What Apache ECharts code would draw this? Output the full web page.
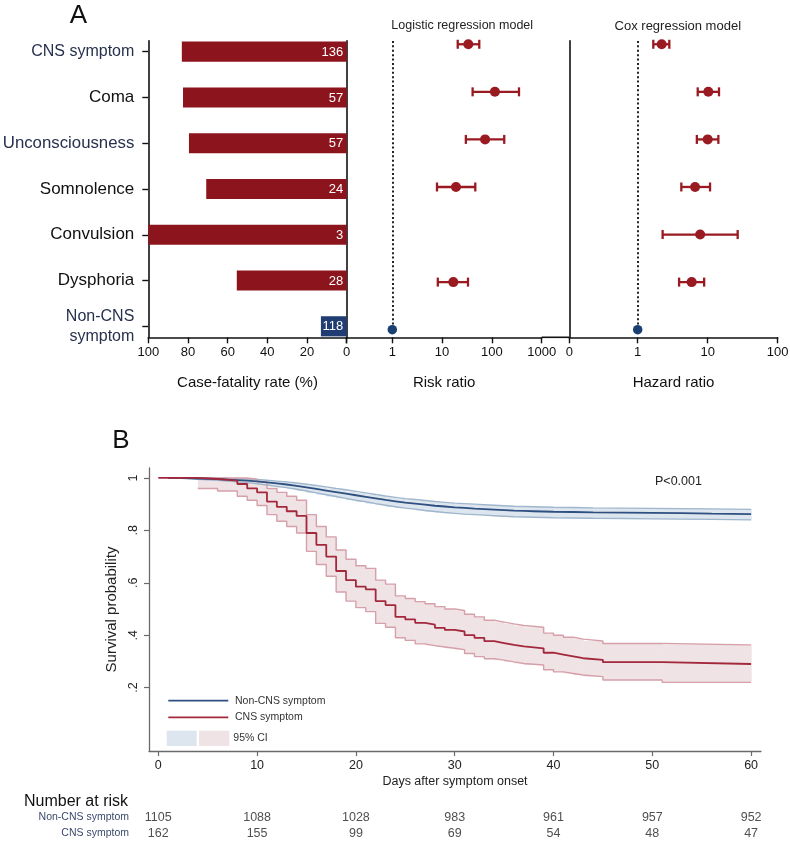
<!DOCTYPE html>
<html><head><meta charset="utf-8">
<script src="https://cdn.jsdelivr.net/npm/echarts@6/dist/echarts.min.js"></script>
<style>html,body{margin:0;padding:0;background:#fff}#c{width:790px;height:841px}</style>
</head><body><div id="c"></div>
<script>
// ---------- DATA ----------
const categories = ['CNS symptom','Coma','Unconsciousness','Somnolence','Convulsion','Dysphoria','Non-CNS symptom'];
const fatalityRate = [83.1, 82.5, 79.5, 70.8, 100, 55.4, 13.0];
const caseCounts = [136, 57, 57, 24, 3, 28, 118];

const logitLow  = [20.6, 41, 30, 7.9, null, 8.2, null];
const logitEst  = [33.6, 115, 73, 19, null, 16.8, 1];
const logitHigh = [55.8, 350, 177, 46.4, null, 33.1, null];

const coxLow  = [1.67, 7.2, 7.0, 4.2, 2.27, 3.9, null];
const coxEst  = [2.2, 10.2, 10, 6.6, 7.8, 5.9, 1];
const coxHigh = [2.83, 14.5, 14.2, 10.8, 26.8, 8.9, null];

const redDays = [0,4,6,8,9,10,11,12,13,14,15,16,17,18,19,20,21,22,23,24,25,26,27,28,29,30,31,32,33,34,35,36,37,39,40,41,42,43,45,51];
const redS    = [1,.996,.99,.977,.96,.945,.91,.89,.873,.855,.79,.745,.70,.645,.61,.585,.575,.53,.515,.47,.46,.447,.44,.428,.42,.414,.40,.39,.377,.37,.363,.357,.35,.333,.326,.319,.312,.306,.297,.29];
const redCiDays = [4,6,8,9,10,11,12,13,14,15,16,17,18,19,20,21,22,23,24,25,26,27,28,29,30,31,32,33,34,35,36,37,39,40,41,42,43,45,51];
const redHi = [1,1,1,.995,.985,.96,.945,.93,.915,.86,.815,.775,.725,.69,.665,.655,.61,.595,.55,.54,.528,.52,.509,.50,.494,.48,.47,.457,.45,.443,.437,.43,.408,.40,.392,.385,.378,.368,.363];
const redLo = [.96,.95,.93,.915,.895,.86,.835,.815,.79,.72,.67,.625,.565,.53,.505,.49,.445,.43,.39,.38,.367,.36,.355,.35,.345,.33,.318,.31,.305,.298,.292,.286,.268,.26,.254,.248,.242,.229,.22];

const blueDays = [1,2,3,4,5,6,7,8,9,10,11,12,13,14,15,16,17,18,19,20,21,22,23,24,25,26,27,28,29,30,31,32,33,34,35,36,37,38,39,40,42,44,47,50,53,56,58];
const blueS  = [1,.999,.998,.997,.996,.994,.992,.99,.987,.983,.979,.975,.97,.964,.958,.952,.946,.94,.934,.928,.922,.916,.911,.906,.902,.898,.894,.891,.888,.886,.883,.881,.879,.877,.875,.874,.873,.872,.871,.87,.869,.868,.867,.866,.864,.863,.862];
const blueHi = [1,1,1,.999,.999,.998,.997,.996,.994,.991,.988,.985,.981,.976,.971,.966,.96,.955,.949,.943,.937,.931,.926,.921,.918,.914,.91,.907,.904,.902,.9,.898,.896,.894,.892,.891,.89,.889,.888,.887,.886,.885,.884,.883,.882,.881,.88];
const blueLo = [1,.997,.995,.993,.991,.988,.985,.982,.978,.973,.968,.963,.957,.95,.943,.936,.929,.922,.915,.909,.902,.896,.89,.885,.881,.876,.872,.868,.865,.862,.86,.858,.856,.854,.852,.851,.85,.849,.848,.847,.846,.845,.844,.843,.842,.841,.84];

const riskDays = [0,10,20,30,40,50,60];
const riskNonCNS = [1105,1088,1028,983,961,957,952];
const riskCNS = [162,155,99,69,54,48,47];
const riskRows = ['Non-CNS symptom','CNS symptom'];
const kmYTicks = [0.2,0.4,0.6,0.8,1];
const followUpEnd = 60;

// ---------- STYLE ----------
const FONT = "'Liberation Sans', Arial, Helvetica, sans-serif";
const BAR_RED = '#8c141c', NAVY = '#1f3d72', FOREST_RED = '#9a1a22', DOT_BLUE = '#1c3f73';
const KM_BLUE = '#2d5080', KM_BLUE_EDGE = '#9fb6cc', KM_BLUE_FILL = '#dde5ee';
const KM_RED = '#a3283c', KM_RED_EDGE = '#d6a0aa', KM_RED_FILL = '#efe3e5';
const AX = '#111', KMAX = '#6a6a6a';
const blueishLabels = new Set(['CNS symptom','Unconsciousness','Non-CNS symptom']);

function stepPts(days, vals){
  const p = days.map((d,i)=>[d, vals[i]]);
  p.push([followUpEnd, vals[vals.length-1]]);
  return p;
}
function bandData(days, lo, hi){
  return days.map((d,i)=>[d, i+1<days.length ? days[i+1] : followUpEnd, lo[i], hi[i]]);
}
function bandRender(color){
  return function(params, api){
    const a = api.coord([api.value(0), api.value(3)]);
    const b = api.coord([api.value(1), api.value(2)]);
    return {type:'rect', shape:{x:a[0], y:a[1], width:b[0]-a[0]+0.6, height:b[1]-a[1]}, style:{fill:color}};
  };
}
function barRender(params, api){
  const v = api.value(0), row = api.value(1);
  const pe = api.coord([v,row]), p0 = api.coord([0,row]);
  const h = api.size([0,0.44])[1];
  const color = row === 6 ? NAVY : BAR_RED;
  return {type:'group', children:[
    {type:'rect', shape:{x:Math.min(pe[0],p0[0]), y:pe[1]-h/2, width:Math.abs(p0[0]-pe[0]), height:h}, style:{fill:color}},
    {type:'text', style:{text:String(api.value(2)), x:p0[0]-3.5, y:p0[1]+0.5, align:'right', verticalAlign:'middle', fill:'#fff', font:'13px '+FONT}}
  ]};
}
function errRender(params, api){
  const lo = api.value(0), hi = api.value(1), row = api.value(2);
  const a = api.coord([lo,row]), b = api.coord([hi,row]);
  const c = 4.5;
  const st = {stroke:FOREST_RED, lineWidth:2.3, fill:null};
  return {type:'group', children:[
    {type:'line', shape:{x1:a[0],y1:a[1],x2:b[0],y2:b[1]}, style:st},
    {type:'line', shape:{x1:a[0],y1:a[1]-c,x2:a[0],y2:a[1]+c}, style:st},
    {type:'line', shape:{x1:b[0],y1:b[1]-c,x2:b[0],y2:b[1]+c}, style:st}
  ]};
}
function errData(lo, hi){
  const out = [];
  lo.forEach((l,i)=>{ if(l!=null && hi[i]!=null) out.push([l, hi[i], i]); });
  return out;
}
function ptData(est, rows){
  const out = [];
  est.forEach((e,i)=>{ if(e!=null && rows(i)) out.push([e, i]); });
  return out;
}
const forestMin = -0.075, forestMax = 6.16;
const dotted = {silent:true, symbol:['none','none'], label:{show:false},
  lineStyle:{color:'#222', type:[2,2.4], width:2, cap:'butt'},
  data:[[{coord:[1,-0.07]},{coord:[1,6]}]]};
const noSplit = {show:false};
const blackLine = {show:true, onZero:false, lineStyle:{color:AX, width:1.6}};
const blackTick = {show:true, length:6, lineStyle:{color:AX, width:1.4}};
const gridBase = {containLabel:false, outerBoundsMode:'none'};

const option = {
  animation:false,
  backgroundColor:'#fff',
  textStyle:{fontFamily:FONT},
  grid:[
    Object.assign({left:148.3, top:40.7, width:198.4, height:296.6}, gridBase),
    Object.assign({left:346.7, top:40.7, width:195, height:296.6}, gridBase),
    Object.assign({left:569.3, top:40.7, width:208.4, height:296.6}, gridBase),
    Object.assign({left:149, top:468, width:612, height:283}, gridBase),
    Object.assign({left:149, top:801.3, width:612, height:48}, gridBase)
  ],
  xAxis:[
    {gridIndex:0, type:'value', inverse:true, min:0, max:100, interval:20, position:'bottom',
     axisLine:blackLine, axisTick:blackTick, splitLine:noSplit,
     axisLabel:{color:AX, fontSize:13, margin:9, showMinLabel:true, showMaxLabel:true},
     name:'Case-fatality rate (%)', nameLocation:'middle', nameGap:38, nameTextStyle:{color:AX, fontSize:15}},
    {gridIndex:1, type:'log', logBase:10, min:0.1215, max:1000, position:'bottom',
     axisLine:blackLine, axisTick:blackTick, splitLine:noSplit, minorTick:{show:false}, minorSplitLine:{show:false},
     axisLabel:{color:AX, fontSize:13, margin:9, showMinLabel:true, showMaxLabel:true, formatter:v=> v<0.5 ? '' : String(Math.round(v))},
     name:'Risk ratio', nameLocation:'middle', nameGap:38, nameTextStyle:{color:AX, fontSize:15}},
    {gridIndex:2, type:'log', logBase:10, min:0.1054, max:100, position:'bottom',
     axisLine:blackLine, axisTick:blackTick, splitLine:noSplit, minorTick:{show:false}, minorSplitLine:{show:false},
     axisLabel:{color:AX, fontSize:13, margin:9, showMinLabel:true, showMaxLabel:true, formatter:v=> v<0.5 ? '0' : String(Math.round(v))},
     name:'Hazard ratio', nameLocation:'middle', nameGap:38, nameTextStyle:{color:AX, fontSize:15}},
    {gridIndex:3, type:'value', min:-0.94, max:61.0, position:'bottom',
     axisLine:{show:true, onZero:false, lineStyle:{color:KMAX, width:1.3}},
     axisTick:{show:true, length:5, customValues:riskDays, lineStyle:{color:KMAX, width:1.2}},
     axisLabel:{color:'#222', fontSize:12.5, margin:8, customValues:riskDays},
     splitLine:noSplit,
     name:'Days after symptom onset', nameLocation:'middle', nameGap:24, nameTextStyle:{color:'#222', fontSize:12.5}},
    {gridIndex:4, type:'value', min:-0.94, max:61.0, show:false}
  ],
  yAxis:[
    {gridIndex:0, type:'value', inverse:true, min:-0.24, max:6.24, position:'left',
     axisLine:blackLine, splitLine:noSplit,
     axisTick:{show:true, length:6, customValues:[0,1,2,3,4,5,6], lineStyle:{color:AX, width:1.4}},
     axisLabel:{margin:14, customValues:[0,1,2,3,4,5,6],
       formatter:v=>{ const n = categories[Math.round(v)]; if(n==='Non-CNS symptom') return '{b|Non-CNS}\n{b|symptom}'; if(n==='Unconsciousness') return '{u|'+n+'}'; return blueishLabels.has(n) ? '{b|'+n+'}' : '{a|'+n+'}'; },
       rich:{a:{fontSize:17, color:'#111', fontFamily:FONT, lineHeight:20},
             b:{fontSize:16, color:'#27304d', fontFamily:FONT, lineHeight:20},
             u:{fontSize:16.8, color:'#27304d', fontFamily:FONT, lineHeight:20}}}},
    {gridIndex:1, type:'value', inverse:true, min:forestMin, max:forestMax, position:'left',
     axisLine:blackLine, axisTick:{show:false}, axisLabel:{show:false}, splitLine:noSplit},
    {gridIndex:2, type:'value', inverse:true, min:forestMin, max:forestMax, position:'left',
     axisLine:blackLine, axisTick:{show:false}, axisLabel:{show:false}, splitLine:noSplit},
    {gridIndex:3, type:'value', min:-0.042, max:1.038, position:'left',
     axisLine:{show:true, onZero:false, lineStyle:{color:KMAX, width:1.3}},
     axisTick:{show:true, length:5, customValues:kmYTicks, lineStyle:{color:KMAX, width:1.2}},
     axisLabel:{color:'#222', fontSize:12.5, margin:9, rotate:90, customValues:kmYTicks,
       formatter:v=> v>0.999 ? '1' : '.'+Math.round(v*10)},
     splitLine:noSplit,
     name:'Survival probability', nameLocation:'middle', nameGap:22, nameTextStyle:{color:'#222', fontSize:15}},
    {gridIndex:4, type:'value', inverse:true, min:-1, max:2,
     axisLine:{show:false, onZero:false}, axisTick:{show:false}, splitLine:noSplit,
     axisLabel:{customValues:[0,1], margin:20, color:'#3b4a6b', fontSize:10.5, formatter:v=>riskRows[Math.round(v)]}}
  ],
  series:[
    {type:'custom', xAxisIndex:0, yAxisIndex:0, renderItem:barRender, encode:{x:0, y:1},
     data:fatalityRate.map((v,i)=>[v,i,caseCounts[i]])},
    // logistic
    {type:'custom', xAxisIndex:1, yAxisIndex:1, renderItem:errRender, encode:{x:[0,1], y:2}, data:errData(logitLow, logitHigh), z:3},
    {type:'scatter', xAxisIndex:1, yAxisIndex:1, symbolSize:10, itemStyle:{color:FOREST_RED, opacity:1}, data:ptData(logitEst, i=>i<6), z:4,
     markLine:dotted},
    {type:'scatter', xAxisIndex:1, yAxisIndex:1, symbolSize:9.5, itemStyle:{color:DOT_BLUE, opacity:1}, data:ptData(logitEst, i=>i===6), z:5},
    // cox
    {type:'custom', xAxisIndex:2, yAxisIndex:2, renderItem:errRender, encode:{x:[0,1], y:2}, data:errData(coxLow, coxHigh), z:3},
    {type:'scatter', xAxisIndex:2, yAxisIndex:2, symbolSize:10, itemStyle:{color:FOREST_RED, opacity:1}, data:ptData(coxEst, i=>i<6), z:4,
     markLine:dotted},
    {type:'scatter', xAxisIndex:2, yAxisIndex:2, symbolSize:9.5, itemStyle:{color:DOT_BLUE, opacity:1}, data:ptData(coxEst, i=>i===6), z:5},
    // KM bands
    {type:'custom', xAxisIndex:3, yAxisIndex:3, renderItem:bandRender(KM_BLUE_FILL), encode:{x:[0,1], y:[2,3]},
     data:bandData(blueDays, blueLo, blueHi), z:1},
    {type:'custom', xAxisIndex:3, yAxisIndex:3, renderItem:bandRender(KM_RED_FILL), encode:{x:[0,1], y:[2,3]},
     data:bandData(redCiDays, redLo, redHi), z:1},
    // KM band edges
    {type:'line', xAxisIndex:3, yAxisIndex:3, step:'end', symbol:'none', lineStyle:{color:KM_BLUE_EDGE, width:1.4}, data:stepPts(blueDays, blueHi), z:2},
    {type:'line', xAxisIndex:3, yAxisIndex:3, step:'end', symbol:'none', lineStyle:{color:KM_BLUE_EDGE, width:1.4}, data:stepPts(blueDays, blueLo), z:2},
    {type:'line', xAxisIndex:3, yAxisIndex:3, step:'end', symbol:'none', lineStyle:{color:KM_RED_EDGE, width:1.4}, data:stepPts(redCiDays, redHi), z:2},
    {type:'line', xAxisIndex:3, yAxisIndex:3, step:'end', symbol:'none', lineStyle:{color:KM_RED_EDGE, width:1.4}, data:stepPts(redCiDays, redLo), z:2},
    // KM main curves
    {type:'line', xAxisIndex:3, yAxisIndex:3, step:'end', symbol:'none', lineStyle:{color:KM_BLUE, width:1.8}, data:stepPts(blueDays, blueS), z:3},
    {type:'line', xAxisIndex:3, yAxisIndex:3, step:'end', symbol:'none', lineStyle:{color:KM_RED, width:1.8}, data:stepPts(redDays, redS), z:4},
    // number at risk
    {type:'scatter', xAxisIndex:4, yAxisIndex:4, symbolSize:1, itemStyle:{color:'rgba(0,0,0,0)'},
     label:{show:true, position:'inside', color:'#222', fontSize:12.5, fontFamily:FONT, formatter:p=>String(p.value[2])},
     data:riskDays.map((d,i)=>[d,0,riskNonCNS[i]]).concat(riskDays.map((d,i)=>[d,1,riskCNS[i]]))}
  ],
  graphic:[
    {type:'text', style:{text:'A', x:78.5, y:16, align:'center', verticalAlign:'middle', font:'26px '+FONT, fill:'#111'}},
    {type:'text', style:{text:'B', x:121, y:441, align:'center', verticalAlign:'middle', font:'26px '+FONT, fill:'#111'}},
    {type:'text', style:{text:'Logistic regression model', x:462.2, y:26, align:'center', verticalAlign:'middle', font:'12.5px '+FONT, fill:'#222'}},
    {type:'text', style:{text:'Cox regression model', x:677.8, y:26, align:'center', verticalAlign:'middle', font:'13px '+FONT, fill:'#222'}},
    {type:'line', shape:{x1:541.7, y1:337.3, x2:569.3, y2:337.3}, style:{stroke:AX, lineWidth:1.6}},
    {type:'text', style:{text:'P<0.001', x:655, y:481.7, align:'left', verticalAlign:'middle', font:'12.5px '+FONT, fill:'#222'}},
    {type:'line', shape:{x1:168.3, y1:700.7, x2:228.3, y2:700.7}, style:{stroke:KM_BLUE, lineWidth:1.8}},
    {type:'text', style:{text:'Non-CNS symptom', x:235, y:700.7, verticalAlign:'middle', font:'10.5px '+FONT, fill:'#333'}},
    {type:'line', shape:{x1:168.3, y1:717.3, x2:228.3, y2:717.3}, style:{stroke:KM_RED, lineWidth:1.8}},
    {type:'text', style:{text:'CNS symptom', x:235, y:717.3, verticalAlign:'middle', font:'10.5px '+FONT, fill:'#333'}},
    {type:'rect', shape:{x:166.7, y:730.7, width:30, height:15.3}, style:{fill:KM_BLUE_FILL}},
    {type:'rect', shape:{x:199, y:730.7, width:30.3, height:15.3}, style:{fill:KM_RED_FILL}},
    {type:'text', style:{text:'95% CI', x:233.3, y:738.3, verticalAlign:'middle', font:'10.5px '+FONT, fill:'#333'}},
    {type:'text', style:{text:'Number at risk', x:24, y:801.7, verticalAlign:'middle', font:'16px '+FONT, fill:'#111'}}
  ]
};
const chart = echarts.init(document.getElementById('c'), null, {renderer:'canvas'});
chart.setOption(option);
</script>
</body></html>
